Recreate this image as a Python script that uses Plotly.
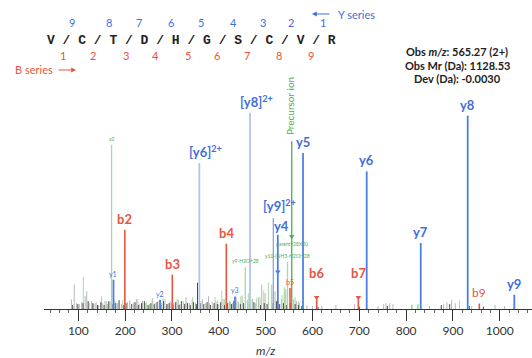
import plotly.graph_objects as go

# ---------------- data ----------------
# singly charged y ions
y_labels = ["y1", "y2", "y3", "y4", "y5", "y6", "y7", "y8", "y9"]
y_mz = [175.1, 274.5, 434.6, 526.0, 579.8, 715.8, 831.2, 931.5, 1031.0]
y_int = [14.9, 4.7, 6.4, 37.8, 79.5, 70.1, 33.6, 98.5, 7.3]

# doubly charged y ions
y2_labels = ["[y6]<sup>2+</sup>", "[y8]<sup>2+</sup>", "[y9]<sup>2+</sup>"]
y2_mz = [358.4, 466.6, 516.4]
y2_int = [74.4, 100.0, 46.4]

# b ions
b_labels = ["b2", "b3", "b4", "b5", "b6", "b7", "b9"]
b_mz = [199.3, 300.7, 416.0, 552.0, 609.0, 698.0, 956.3]
b_int = [40.4, 17.5, 33.3, 10.7, 6.0, 6.0, 2.8]

# precursor
prec_mz = [555.7]
prec_int = [85.4]

# labelled neutral-loss / other ions (green)
g_labels = ["a2", "y9-H2O+28", "y10-(NH3-H2O)+28"]
g_mz = [171.0, 456.5, 546.7]
g_int = [83.7, 21.3, 24.0]

# unassigned peaks
grey_mz = [85.3, 91.3, 96, 102, 107, 114.7, 118, 123, 128, 133, 138, 143, 152, 157, 162, 168,
           178, 184, 192, 205, 210, 218, 224, 231, 237, 244, 252, 258, 264, 270, 278, 285, 291,
           296, 304, 311, 317, 324, 330, 337, 343, 350, 365, 372, 378, 386, 394, 400, 409, 423,
           429, 437, 442, 450, 461, 472, 478, 485, 491.6, 499, 506, 513, 520, 527, 534, 540,
           543, 560, 566, 572, 588, 600, 620, 650, 690, 740, 752, 757, 765, 772, 812, 824, 850,
           880, 887, 897, 905, 940, 990, 1010]
grey_int = [4.9, 12.5, 3, 2.5, 3.5, 6.6, 9, 3, 4, 2.5, 3.5, 2, 3, 4, 2.5, 3.5,
            4, 3, 2.5, 3.5, 4.5, 3, 5, 2.5, 4, 3, 2.5, 5.5, 3, 4, 3, 5, 2.5,
            4, 3, 5, 2.5, 4, 6, 3, 4.5, 3, 5, 3, 6.5, 3.5, 4, 2.5, 5, 4,
            3, 6, 3.5, 7, 4.5, 5, 3, 6, 12.5, 8, 3.5, 12.5, 9, 4, 5, 8,
            10, 5, 4, 3, 2, 1.5, 1.5, 2, 2.5, 1.5, 2.5, 3, 3, 2.5, 2.2, 2.2, 1.5,
            2.5, 3.5, 4.5, 3, 1.5, 2, 1.5]

dark_mz = [88, 99, 110, 121, 131, 141, 148, 155, 165, 172, 180, 187, 197, 202, 214, 221, 228,
           235, 241, 249, 255, 262, 268, 276, 282, 289, 294, 302, 308, 315, 320, 327, 333, 339,
           346, 352, 354.5, 360, 368, 375, 382, 390, 397, 404, 412, 419, 427, 432, 446, 453,
           466, 475, 489, 497, 503, 516, 523, 530, 538, 545, 553, 563, 570, 577, 612, 700, 760,
           875, 893, 935, 965]
dark_int = [2, 2.5, 3, 4, 3, 2, 3.5, 2, 4, 2.5, 3, 4.5, 2, 3, 2.5, 3.5, 2,
            3, 4, 2, 3, 2.5, 3.5, 2, 4, 2.5, 3, 2, 3.5, 2, 4, 2.5, 3, 2,
            3.5, 2.5, 13.4, 3, 2.5, 3.5, 2, 3, 2.5, 3.5, 2, 3, 2.5, 4, 2.5, 3,
            2.5, 3.5, 2, 3, 2.5, 3, 4, 2.5, 3, 2, 3, 2.5, 2, 1.5, 1, 1.2, 1.5,
            2, 2.5, 1.5, 1.2]

green_mz = [110.7, 136, 149.7, 160, 176, 195, 209, 227, 246, 259, 281, 299, 314, 330, 344, 362,
            380, 392, 398, 406.4, 412, 425, 439, 447, 463, 471, 481, 488, 496, 505.7, 513, 535,
            540, 563, 570, 813, 826, 914]
green_int = [16.3, 3, 6.6, 4, 3, 4.5, 3, 5, 3.5, 4, 5.5, 3, 4.5, 3.5, 6, 4,
             3, 6, 4.5, 9.3, 5, 3.5, 4, 6.5, 8, 5, 5.8, 6, 9.5, 13.4, 8, 7,
             11, 6, 4, 2.2, 2.5, 4.2]

# arrow markers on lines
arrow_mz = [555.7, 526.0]
arrow_int = [36.9, 19.0]

# sequence annotation
residues = "V / C / T / D / H / G / S / C / V / R"
y_numbers = ["9", "8", "7", "6", "5", "4", "3", "2", "1"]
b_numbers = ["1", "2", "3", "4", "5", "6", "7", "8", "9"]
x_ticks = [100, 200, 300, 400, 500, 600, 700, 800, 900, 1000]

# ---------------- style ----------------
BLUE = "#3f6fdb"
BLUE_LINE = "#4c7fe6"
LIGHT_BLUE = "#aec5f3"
MID_BLUE = "#86a6ec"
RED = "#e8553f"
GREEN = "#4caf50"
LIGHT_GREEN = "#a8d9a3"
GREY = "#b8b8b8"
DARK = "#4a4a4a"
FONT = "Lato"

W, H = 532, 358
L, R, T, B = 44, 0, 0, 49
PW, PH = W - L - R, H - T - B
Y_TOP = PH / 196.3 * 100


def px(xp):
    return (xp - L) / PW


def py(yp):
    return (H - B - yp) / PH


def stems(mz, inten):
    xs, ys = [], []
    for m, i in zip(mz, inten):
        xs += [m, m, None]
        ys += [0, i, None]
    return xs, ys


fig = go.Figure()


def add_stems(mz, inten, color, width):
    xs, ys = stems(mz, inten)
    fig.add_trace(go.Scatter(x=xs, y=ys, mode="lines", line=dict(color=color, width=width),
                             hoverinfo="skip", showlegend=False))


add_stems(grey_mz, grey_int, GREY, 1)
add_stems(green_mz, green_int, LIGHT_GREEN, 1)
add_stems(dark_mz, dark_int, DARK, 1)
add_stems(g_mz, g_int, LIGHT_GREEN, 1.3)
add_stems(y2_mz[:2], y2_int[:2], LIGHT_BLUE, 1.8)
add_stems(y2_mz[2:], y2_int[2:], MID_BLUE, 1.3)
add_stems(prec_mz, prec_int, GREEN, 1.3)
add_stems(b_mz, b_int, RED, 1.6)
add_stems(y_mz, y_int, BLUE_LINE, 1.8)

fig.add_trace(go.Scatter(x=arrow_mz, y=arrow_int, mode="markers",
                         marker=dict(symbol="triangle-down", size=5, color=[GREEN, BLUE_LINE]),
                         hoverinfo="skip", showlegend=False))
fig.add_trace(go.Scatter(x=b_mz[4:6], y=b_int[4:6], mode="markers",
                         marker=dict(symbol="triangle-down", size=5, color=RED),
                         hoverinfo="skip", showlegend=False))

ann = []


def label(x, y, text, color, size, bold=True, yshift=1, xshift=0):
    t = f"<b>{text}</b>" if bold else text
    ann.append(dict(x=x, y=y, xref="x", yref="y", text=t, showarrow=False,
                    yanchor="bottom", xanchor="center", yshift=yshift, xshift=xshift,
                    font=dict(family=FONT, size=size, color=color)))


def ptext(xp, yp, text, size, color, family=FONT, xanchor="center"):
    ann.append(dict(x=px(xp), y=py(yp), xref="paper", yref="paper", text=text,
                    showarrow=False, xanchor=xanchor, yanchor="middle",
                    font=dict(family=family, size=size, color=color)))


small_y = {"y1", "y2", "y3"}
for lab, m, i in zip(y_labels, y_mz, y_int):
    if lab in small_y:
        label(m, i, lab, BLUE, 7, bold=False, yshift=0)
    elif lab == "y4":
        label(m, i, lab, BLUE, 13, yshift=-1, xshift=4)
    else:
        label(m, i, lab, BLUE, 13, yshift=1)

for lab, m, i in zip(y2_labels, y2_mz, y2_int):
    label(m, i, lab, BLUE, 13, yshift=2 if "y9" in lab else 1, xshift=6)

for lab, m, i in zip(b_labels, b_mz, b_int):
    if lab == "b5":
        label(m, i, lab, RED, 7, bold=False, yshift=0)
    elif lab in ("b6", "b7"):
        label(m, i, lab, RED, 13, yshift=14)
    elif lab == "b9":
        label(m, i, lab, RED, 12, bold=False, yshift=2)
    else:
        label(m, i, lab, RED, 13, yshift=1)

for lab, m, i in zip(g_labels, g_mz, g_int):
    label(m, i, lab, GREEN, 5, bold=False, yshift=1)

ann.append(dict(x=555.7, y=36.9, xref="x", yref="y", text="parent+28X20", showarrow=False,
                yanchor="top", xanchor="center", yshift=-2,
                font=dict(family=FONT, size=5, color=GREEN)))

# precursor label (vertical)
ann.append(dict(x=prec_mz[0], y=prec_int[0], xref="x", yref="y", text="Precursor ion",
                textangle=-90, showarrow=False, yanchor="bottom", xanchor="center",
                xshift=-1, yshift=4, font=dict(family=FONT, size=10, color=GREEN)))

# sequence
ptext(191, 40, f"<b>{residues}</b>", 13, "#222222", family="Liberation Mono")
y_num_x = [72, 109, 139, 171, 201, 233, 263, 291, 323]
b_num_x = [63.3, 93.3, 125.7, 155, 187.7, 217, 246.7, 279.3, 311]
for n, xp in zip(y_numbers, y_num_x):
    ptext(xp, 22.7, n, 11, BLUE)
for n, xp in zip(b_numbers, b_num_x):
    ptext(xp, 55, n, 11, RED)

# series legends
ptext(13, 70, "B series", 11, RED, xanchor="left")
ann.append(dict(x=px(76), y=py(70), xref="paper", yref="paper", text="", showarrow=True,
                ax=-19, ay=0, arrowhead=2, arrowsize=0.8, arrowwidth=1.2, arrowcolor=RED))
ptext(336, 14, "Y series", 11, BLUE, xanchor="left")
ann.append(dict(x=px(312), y=py(14), xref="paper", yref="paper", text="", showarrow=True,
                ax=19, ay=0, arrowhead=2, arrowsize=0.8, arrowwidth=1.2, arrowcolor=BLUE))

# observation box
obs_lines = ["Obs <i>m/z</i>: 565.27 (2+)", "Obs Mr (Da): 1128.53", "Dev (Da): -0.0030"]
for t, yp in zip(obs_lines, [51.7, 65, 78]):
    ptext(457, yp, f"<b>{t}</b>", 11, "#222222")

# axis title
ann.append(dict(x=500, y=py(350), xref="x", yref="paper", text="<i>m/z</i>", showarrow=False,
                xanchor="center", yanchor="middle",
                font=dict(family=FONT, size=12, color="#333333")))

fig.update_layout(
    width=W, height=H,
    margin=dict(l=L, r=R, t=T, b=B, pad=0),
    paper_bgcolor="white", plot_bgcolor="white",
    annotations=ann,
    xaxis=dict(range=[26.7, 1068.8], showline=True, linecolor="#333333", linewidth=1,
               ticks="outside", ticklen=11, tickwidth=1, tickcolor="#333333",
               tickvals=x_ticks, ticktext=[str(v) for v in x_ticks],
               tickfont=dict(family=FONT, size=12, color="#333333"),
               minor=dict(dtick=20, tick0=0, ticks="outside", ticklen=3, tickcolor="#666666",
                          showgrid=False),
               showgrid=False, zeroline=False, fixedrange=True),
    yaxis=dict(range=[0, Y_TOP], visible=False, showgrid=False, zeroline=False, fixedrange=True),
)

fig.write_html("out.html")
